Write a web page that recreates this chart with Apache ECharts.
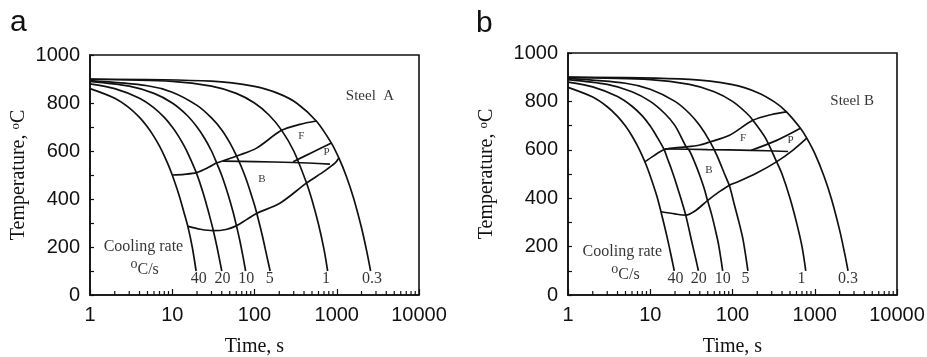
<!DOCTYPE html>
<html>
<head>
<meta charset="utf-8">
<script src="https://cdn.jsdelivr.net/npm/echarts@6.0.0/dist/echarts.min.js"></script>
<style>
  html, body { margin: 0; padding: 0; background: #fff; }
  #main { width: 927px; height: 357px; }
</style>
</head>
<body>
<div id="main"></div>
<script>
// axis ticks
const timeTicks = [1, 10, 100, 1000, 10000];
const minorTimeTicks = [2, 3, 4, 5, 6, 7, 8, 9, 20, 30, 40, 50, 60, 70, 80, 90,
  200, 300, 400, 500, 600, 700, 800, 900, 2000, 3000, 4000, 5000, 6000, 7000, 8000, 9000];
const tempTicks = [0, 200, 400, 600, 800, 1000];

// Steel A: cooling curves [time s, temperature C]
const coolA40 = [[1, 860], [2, 820], [3, 780], [4, 740], [5, 700], [6, 660], [7, 620], [8, 580], [9, 540], [10, 500], [12, 420], [14, 340], [15.5, 285], [17.5, 200], [19.5, 100]];
const coolA20 = [[1, 880], [2, 860], [4, 820], [6, 780], [8, 740], [10, 700], [12, 660], [14, 620], [16, 580], [19.7, 508], [24, 420], [28, 338], [31.4, 272], [35, 200], [40, 100]];
const coolA10 = [[1, 890], [3, 870], [6, 840], [10, 800], [15, 750], [20, 700], [25, 650], [30, 600], [34.5, 552], [40, 498], [48, 416], [55, 345], [60, 292], [66, 230], [72, 165], [78, 100]];
const coolA5 = [[1, 893], [5, 872], [10, 845], [20, 790], [30, 738], [40, 688], [50, 635], [60, 582], [70, 530], [80, 478], [90, 425], [100, 375], [110, 322], [125, 245], [140, 168], [155, 100]];
const coolA1 = [[1, 899], [10, 890], [30, 870], [60, 840], [100, 800], [150, 750], [213, 687], [300, 600], [428, 468], [500, 396], [600, 295], [700, 190], [775, 100]];
const coolA03 = [[1, 900], [30, 891], [100, 869], [200, 838], [330, 798], [567, 724], [861, 633], [1060, 571], [1300, 497], [1600, 404], [2000, 280], [2300, 187], [2580, 100]];
// Steel A: transformation lines
const ferriteA = [[10, 500], [14, 503], [19.7, 510], [28, 533], [34.5, 550], [45, 563], [62, 580], [106, 612], [213, 686], [356, 711], [567, 725]];
const bainiteA = [[41.5, 558], [100, 556], [300, 552], [826, 545]];
const pearliteA = [[295, 555], [494, 593], [861, 633]];
const finishA = [[15.5, 286], [22, 274], [31.4, 268], [45, 273], [60, 288], [80, 314], [106, 340], [203, 382], [428, 466], [700, 515], [950, 549], [1060, 571]];

// Steel B: cooling curves
const coolB40 = [[1, 858], [2, 818], [3, 778], [4, 738], [5, 698], [6, 657], [7, 616], [8, 575], [9, 534], [10, 492], [12, 410], [13.5, 344], [16, 240], [18, 160], [19.6, 100]];
const coolB20 = [[1, 880], [2, 860], [4, 820], [6, 780], [8, 740], [10, 698], [12, 655], [14.8, 600], [16, 568], [18, 522], [20, 476], [24, 390], [27, 330], [32, 220], [36, 145], [38.5, 100]];
const coolB10 = [[1, 890], [3, 870], [6, 840], [10, 800], [15, 750], [20, 700], [27.4, 612], [30, 596], [35, 545], [40, 494], [45, 443], [49.6, 392], [56, 330], [62, 268], [68, 205], [76, 100]];
const coolB5 = [[1, 895], [5, 875], [10, 850], [20, 800], [30, 750], [40, 700], [53, 635], [65, 575], [80, 500], [92, 450], [105, 375], [120, 300], [135, 225], [154, 100]];
const coolB1 = [[1, 899], [10, 890], [30, 870], [60, 840], [100, 800], [150, 750], [177, 722], [250, 650], [342, 552], [400, 500], [500, 400], [600, 300], [700, 200], [778, 100]];
const coolB03 = [[1, 900], [30, 891], [100, 869], [200, 837], [330, 796], [453, 757], [670, 689], [800, 648], [1000, 585], [1300, 490], [1600, 396], [2000, 270], [2300, 175], [2540, 100]];
// Steel B: transformation lines
const ferriteB = [[8.6, 550], [11, 575], [14.8, 601], [20, 608], [27.4, 612], [40, 620], [52.7, 632], [92, 660], [177, 722], [300, 746], [453, 757]];
const bainiteB = [[15, 604], [50, 601], [169, 598], [475, 593]];
const pearliteB = [[169, 598], [340, 638], [670, 689]];
const finishB = [[13.5, 344], [20, 335], [27, 330], [35, 347], [49.6, 390], [70, 428], [92, 454], [115, 467], [200, 505], [342, 550], [550, 600], [800, 648]];

// text labels [text, time, temperature]
const rateLabelsA = [['40', 21, 68], ['20', 40.7, 68], ['10', 79.6, 68], ['5', 153, 68], ['1', 739, 68], ['0.3', 2680, 68]];
const rateLabelsB = [['40', 20.3, 68], ['20', 39, 68], ['10', 76.2, 68], ['5', 144, 68], ['1', 688, 68], ['0.3', 2540, 68]];
const phaseLabelsA = [['F', 372, 660], ['P', 754, 594], ['B', 123, 483]];
const phaseLabelsB = [['F', 134, 649], ['P', 507, 642], ['B', 51.6, 518]];
const noteLabelsA = [['Steel  A', 2537, 829], ['Cooling rate', 4.46, 202], ['{sup|o}C/s', 4.62, 104]];
const noteLabelsB = [['Steel B', 2851, 800], ['Cooling rate', 4.58, 179], ['{sup|o}C/s', 5.0, 82]];

const SANS = 'Liberation Sans';
const SERIF = 'Liberation Serif';
const INK = '#111';

const chart = echarts.init(document.getElementById('main'));

// 曲线
function curve(data, idx) {
  return {
    type: 'line', xAxisIndex: idx, yAxisIndex: idx, data: data,
    symbol: 'none', showSymbol: false, smooth: 0.3, silent: true,
    lineStyle: { color: INK, width: 1.7 },
  };
}

// log minor ticks on the time axis
function minorTicks(idx) {
  return {
    type: 'custom', xAxisIndex: idx, yAxisIndex: idx, silent: true, clip: false,
    data: minorTimeTicks.map(t => [t, 0]),
    renderItem: (params, api) => {
      const p = api.coord([api.value(0), 0]);
      return {
        type: 'line',
        shape: { x1: p[0], y1: p[1], x2: p[0], y2: p[1] - 4 },
        style: { stroke: INK, lineWidth: 1.2 },
      };
    },
  };
}

// 文本标注
function labels(items, idx, fontSize) {
  return {
    type: 'scatter', xAxisIndex: idx, yAxisIndex: idx, silent: true,
    symbolSize: 0, itemStyle: { color: INK },
    data: items.map(d => ({ name: d[0], value: [d[1], d[2]] })),
    label: {
      show: true, position: 'inside', formatter: '{b}',
      fontFamily: SERIF, fontSize: fontSize, color: '#000', textBorderWidth: 0, lineHeight: 26,
      rich: { sup: { fontFamily: SERIF, fontSize: 14, lineHeight: 14, verticalAlign: 'top', color: '#000' } },
    },
  };
}

function xAxis(idx) {
  return {
    type: 'log', logBase: 10, min: timeTicks[0], max: timeTicks[timeTicks.length - 1], gridIndex: idx,
    name: 'Time, s', nameLocation: 'middle', nameGap: 42,
    nameTextStyle: { fontFamily: SERIF, fontSize: 20, color: INK },
    axisLine: { lineStyle: { color: INK, width: 1.6 } },
    axisTick: { inside: true, length: 6, lineStyle: { color: INK, width: 1.2 } },
    axisLabel: { fontFamily: SANS, fontSize: 20, color: INK, margin: 10, formatter: v => String(v) },
    splitLine: { show: false },
  };
}

function yAxis(idx, gap) {
  return {
    type: 'value', min: 0, max: 1000, interval: 100, gridIndex: idx,
    name: 'Temperature, {sup|o}C', nameLocation: 'middle', nameGap: gap,
    nameTextStyle: {
      fontFamily: SERIF, fontSize: 20, color: INK,
      rich: { sup: { fontFamily: SERIF, fontSize: 13, verticalAlign: 'top', color: INK } },
    },
    axisLine: { lineStyle: { color: INK, width: 1.6 } },
    axisTick: { inside: true, length: 4, lineStyle: { color: INK, width: 1.2 } },
    axisLabel: {
      fontFamily: SANS, fontSize: 20, color: INK, margin: 10,
      formatter: v => (tempTicks.includes(v) ? String(v) : ''),
    },
    splitLine: { show: false },
  };
}

const option = {
  animation: false,
  backgroundColor: '#fff',
  title: [
    { text: 'a', left: 10, top: 8, padding: 0, textStyle: { fontFamily: SANS, fontSize: 30, fontWeight: 'normal', color: INK } },
    { text: 'b', left: 476, top: 9, padding: 0, textStyle: { fontFamily: SANS, fontSize: 30, fontWeight: 'normal', color: INK } },
  ],
  grid: [
    { left: 90, top: 55, width: 329, height: 240, outerBoundsMode: 'none', show: true, borderColor: INK, borderWidth: 1.6 },
    { left: 568, top: 53, width: 329, height: 242, outerBoundsMode: 'none', show: true, borderColor: INK, borderWidth: 1.6 },
  ],
  xAxis: [xAxis(0), xAxis(1)],
  yAxis: [yAxis(0, 61), yAxis(1, 71)],
  series: [
    curve(coolA40, 0), curve(coolA20, 0), curve(coolA10, 0), curve(coolA5, 0), curve(coolA1, 0), curve(coolA03, 0),
    curve(ferriteA, 0), curve(bainiteA, 0), curve(pearliteA, 0), curve(finishA, 0),
    curve(coolB40, 1), curve(coolB20, 1), curve(coolB10, 1), curve(coolB5, 1), curve(coolB1, 1), curve(coolB03, 1),
    curve(ferriteB, 1), curve(bainiteB, 1), curve(pearliteB, 1), curve(finishB, 1),
    minorTicks(0), minorTicks(1),
    labels(rateLabelsA, 0, 16), labels(rateLabelsB, 1, 16),
    labels(phaseLabelsA, 0, 11), labels(phaseLabelsB, 1, 11),
    labels(noteLabelsA.slice(0, 1), 0, 15), labels(noteLabelsB.slice(0, 1), 1, 15),
    labels(noteLabelsA.slice(1), 0, 16), labels(noteLabelsB.slice(1), 1, 16),
  ],
};

chart.setOption(option);
window.addEventListener('resize', () => chart.resize());
</script>
</body>
</html>
